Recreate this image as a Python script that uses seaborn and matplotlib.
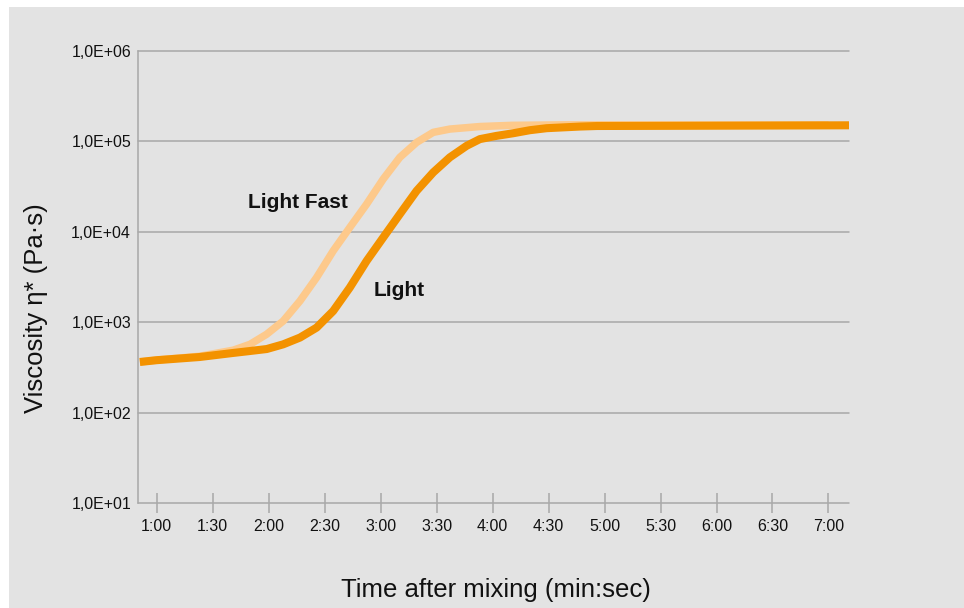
import numpy as np
import pandas as pd
import matplotlib
matplotlib.use("Agg")
import matplotlib.pyplot as plt
import matplotlib.ticker as mticker
from matplotlib.patches import Rectangle
import seaborn as sns

# time after mixing in seconds, viscosity in Pa·s
light_t = [51, 60, 83, 101, 110, 119, 127.8, 136.8, 145.7, 154.6, 163.5,
           172.5, 181.4, 190.3, 199.3, 208.2, 217.1, 226.1, 233.2, 242, 251,
           260, 269, 287, 296, 330, 380, 431]
light_eta = [363, 380, 412, 457, 480, 505, 569, 676, 871, 1330, 2415, 4760,
             8650, 15670, 28380, 45400, 66600, 89400, 106000, 115000, 123000,
             133000, 140000, 146000, 148000, 148600, 149600, 150700]

fast_t = [51, 60, 83, 101, 110, 118.9, 127.8, 136.8, 145.7, 154.6, 163.5,
          172.5, 181.4, 190.3, 199.3, 208.2, 217.1, 233.2, 250, 280, 340, 420]
fast_eta = [363, 381, 420, 490, 569, 735, 1030, 1718, 3120, 6150, 11170,
            20220, 38280, 66600, 97500, 125900, 136900, 146000, 150500,
            152500, 152000, 151500]

x_ticks = [60, 90, 120, 150, 180, 210, 240, 270, 300, 330, 360, 390, 420]
y_ticks = [1e1, 1e2, 1e3, 1e4, 1e5, 1e6]

light_color = "#f39200"
fast_color = "#fdc98b"
bg = "#e3e3e3"
grid_c = "#a8a8a8"

sns.set_style("white")
plt.rcParams["font.family"] = ["Liberation Sans", "DejaVu Sans"]

fig = plt.figure(figsize=(9.64, 6.08), dpi=100, facecolor="white")
fig.patches.append(Rectangle((9 / 964, 0), 1 - 9 / 964, 1 - 7 / 608,
                             transform=fig.transFigure, facecolor=bg,
                             edgecolor="none", zorder=-10))
ax = fig.add_axes([138 / 964, 1 - 503 / 608, (849 - 138) / 964, (503 - 51) / 608])
ax.set_facecolor(bg)

df_fast = pd.DataFrame({"t": fast_t, "eta": fast_eta})
df_light = pd.DataFrame({"t": light_t, "eta": light_eta})
sns.lineplot(data=df_fast, x="t", y="eta", ax=ax, color=fast_color, lw=5.4,
             solid_capstyle="butt", solid_joinstyle="round", zorder=3)
sns.lineplot(data=df_light, x="t", y="eta", ax=ax, color=light_color, lw=5.8,
             solid_capstyle="butt", solid_joinstyle="round", zorder=4)

ax.set_yscale("log")
ax.set_ylim(10, 1e6)
ax.set_xlim(50, 431)
ax.yaxis.set_major_locator(mticker.FixedLocator(y_ticks))
ax.yaxis.set_minor_locator(mticker.NullLocator())
ax.yaxis.set_major_formatter(mticker.FuncFormatter(
    lambda v, p: "1,0E+%02d" % round(np.log10(v))))
ax.xaxis.set_major_locator(mticker.FixedLocator(x_ticks))
ax.xaxis.set_minor_locator(mticker.NullLocator())
ax.xaxis.set_major_formatter(mticker.FuncFormatter(
    lambda v, p: "%d:%02d" % (int(v) // 60, int(v) % 60)))

ax.grid(axis="y", color=grid_c, lw=1.1)
for gl in ax.get_ygridlines():
    gl.set_clip_on(False)
ax.grid(axis="x", visible=False)

for side in ["top", "right", "bottom"]:
    ax.spines[side].set_visible(False)
ax.spines["left"].set_color(grid_c)
ax.spines["left"].set_linewidth(1.1)

ax.tick_params(axis="y", left=False, length=0, pad=5, labelsize=11.5,
               labelcolor="#111111")
ax.tick_params(axis="x", bottom=True, direction="inout", length=15, width=1.1,
               color=grid_c, pad=4, labelsize=11.5, labelcolor="#111111")
ax.set_xlabel("")
ax.set_ylabel("")

ax.text(108.9, 20900, "Light Fast", fontsize=15, fontweight="bold",
        ha="left", va="center", color="#111111")
ax.text(176.4, 2270, "Light", fontsize=15, fontweight="bold",
        ha="left", va="center", color="#111111")

fig.text(0.5145, 1 - 590 / 608, "Time after mixing (min:sec)", fontsize=18.5,
         ha="center", va="center", color="#111111")
fig.text(36 / 964, 1 - 308 / 608, "Viscosity η* (Pa·s)", fontsize=18.5,
         rotation=90, ha="center", va="center", color="#111111")

fig.savefig("out.png", dpi=100, facecolor="white")
